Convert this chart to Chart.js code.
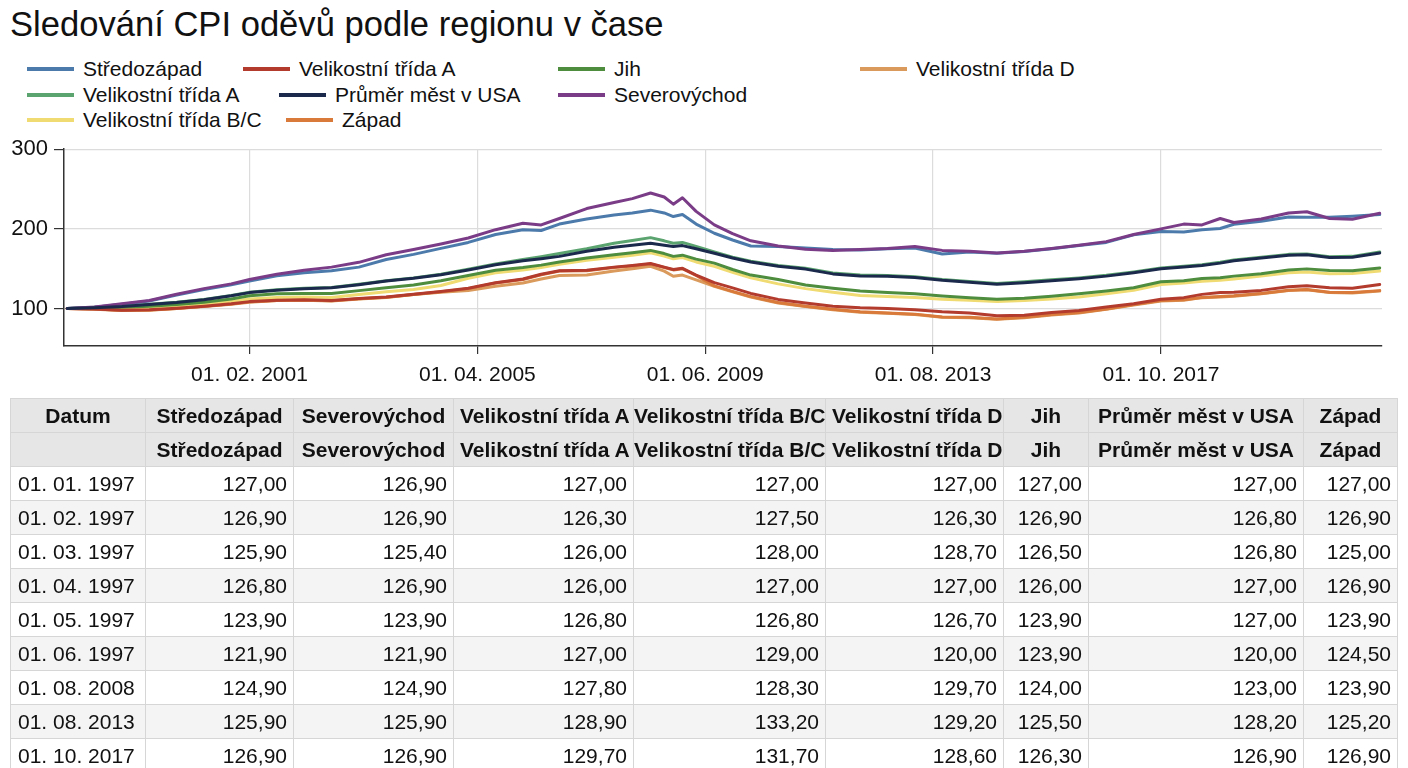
<!DOCTYPE html>
<html><head><meta charset="utf-8">
<script src="https://cdn.jsdelivr.net/npm/chart.js@4.4.1/dist/chart.umd.min.js"></script>
<style>
body{margin:0;width:1408px;height:768px;overflow:hidden;background:#fff;font-family:"Liberation Sans",Arial,sans-serif;color:#111;position:relative}
#title{position:absolute;left:10px;top:4px;font-size:34.6px;line-height:40px;white-space:nowrap}
.li{position:absolute;height:24px;display:flex;align-items:center;font-size:21px;white-space:nowrap}
.sw{width:47px;height:4px;margin-right:9px}
#chartBox{position:absolute;left:0;top:130px;width:1408px;height:270px}
table{position:absolute;left:10px;top:398px;width:1387px;border-collapse:collapse;table-layout:fixed;font-size:21px}
td,th{border:1px solid #d6d6d6;padding:0 6px;height:33px;white-space:nowrap;overflow:visible}
th{background:#e6e6e6;font-weight:bold;text-align:center}
td{text-align:right}
td.d{text-align:left;padding-left:7px}
tbody tr:nth-child(even) td{background:#f4f4f4}
</style></head>
<body>
<div id="title">Sledování CPI oděvů podle regionu v čase</div>
<div id="legend"></div>
<div id="chartBox"><canvas id="c" width="1408" height="270"></canvas></div>
<table id="tbl"></table>
<script>
// ---- data ----
const sampleDates = ['1997-10','1998-04','1998-10','1999-04','1999-10','2000-04','2000-10','2001-02','2001-08','2002-02',
'2002-08','2003-02','2003-08','2004-02','2004-08','2005-02','2005-08','2006-02','2006-06','2006-10',
'2007-04','2007-10','2008-02','2008-06','2008-09','2008-11','2009-01','2009-04','2009-08','2009-12',
'2010-04','2010-10','2011-04','2011-10','2012-04','2012-10','2013-04','2013-10','2014-04','2014-10',
'2015-04','2015-10','2016-04','2016-10','2017-04','2017-10','2018-03','2018-07','2018-11','2019-02',
'2019-08','2020-02','2020-06','2020-11','2021-04','2021-10'];

const midwest = [100,101.5,105.5,109.5,117,124,130,134.5,141,145,
147.5,152,161.5,168,175.5,183,193,199,198,206,
212.5,217.5,220,223.5,220,215.5,218,206,194.5,186,
178.5,178,176,174,173.5,175,176,168.5,171,169.5,
171.5,175,179,183,192.5,196.7,196,199,200.5,205.8,
209.5,215,214.5,214.5,216,218];
const sizeARed = [100,99.5,98,98.5,100.5,103,106,108.7,110.5,111,
110,112.5,114.5,118,121.5,125.5,132.5,137,143,147.5,
148,152,154,156.5,152,149,150.5,142,132.5,126,
119,111.5,107,103,101,100,98.5,96,94.5,91,
91.5,95,97.5,102,106,111.6,113.7,117.8,120,120.5,
122.8,127.5,128.5,126,125.5,130.3];
const south = [100,100.5,101.5,103,105,108,112,116,118.5,119,
119,122.5,126,129.5,135,141.5,148,151.5,154.5,158.5,
163.5,167.5,170,173,169,165.5,167,162,157,149,
142,136.5,129.5,125.5,122,120,118.5,115.8,113.7,111.6,
113,115.5,118.5,122,126,133.6,135,137.8,138.6,140.7,
143.6,148.5,149.8,147.7,147.5,151];
const sizeD = [100,99,97.5,98,100,102.5,105.5,108,110,110.5,
109.5,112,114,117.5,120.5,122.5,128,132,137,141.5,
142,147,150,153,147,140.5,142,136,128,121,
114.5,107,102.5,98.5,95.5,94,92.5,89,88.5,86.5,
88.5,92,94.5,99,104.5,109.5,110.4,113.7,114.5,115.5,
118.7,122.5,123.5,120,119.5,122];
const sizeAGreen = [100,101.5,103,105.5,108,111.5,116.5,120.5,123.5,125.5,
126.5,130.5,135,138.5,143,149.5,156,161.5,165,169,
175,182,185.5,189,185,182,183,178,171,164.5,
159.5,154,150.5,144.5,142,141.5,140,136.5,134,131.5,
133.5,136,138.5,141.7,146,151,153,155,158,161,
164.5,168,168.5,165,165.5,171];
const usAverage = [100,101,102.5,105,107.5,111,116,120,123,125,
126,130,134.5,138,142.5,148.5,155,160,162.5,165.5,
172,177,179.5,182,179.5,178,179,175,169.5,163.5,
158.5,153,149.5,143.5,141,140.5,139,135.5,133,130.5,
132.5,135,137.5,140.7,145,150,152,154,157,160,
163.5,167,167.5,164,164.5,169.7];
const northeast = [100,102,106,110,118,125,131,136.5,143,148,
152,158,167.5,174,181,188.5,199,207,205,213,
225.5,233,238,245,240,231,239,222,205,194,
185,178.5,174.5,173,174,175.5,178,173,171.8,169.7,
172,175.5,179.5,184,193,200,206,205,213,208,
212.5,220,221.5,213,212,219.5];
const sizeBC = [100,100,100.5,101.5,103,105.5,109,112,114,114.5,
114,117.5,121,124,129,138,145,148.5,151.5,155.5,
160.5,164.5,167,170,166,162.5,164,158.5,153,145.5,
138.5,131,125,120.5,116.5,115,114,111.6,110.4,108.7,
110,112,114.5,118.7,123,130.3,132,134.4,135.5,137,
140.7,145,146,143.6,144,147];
const west = [100,99.5,97.8,98.2,100.2,102.8,105.8,108.4,110.2,110.7,
109.7,112.2,114.2,117.7,121.2,125,132,136.5,142.5,147,
147.5,151.5,153.5,156,151.5,148.5,150,141.5,128.5,121.5,
115,107.5,103,99,96,94.5,93,89.5,89,87,
89,92.5,95,99.5,105,110,111,114,115,116,
119,123,124,120.5,120,122.5];

const seriesNames = ['Středozápad','Velikostní třída A','Jih','Velikostní třída D','Velikostní třída A','Průměr měst v USA','Severovýchod','Velikostní třída B/C','Západ'];
const seriesValues = [midwest,sizeARed,south,sizeD,sizeAGreen,usAverage,northeast,sizeBC,west];
const seriesColors = ['#4c7bab','#b23b2e','#4e8c3e','#d99a5c','#5ba36f','#1b2a4c','#7b3c87','#efdb72','#d9793a'];
const drawOrder = [4,2,3,8,6,0,1,5,7];

const xTickDates = ['2001-02','2005-04','2009-06','2013-08','2017-10'];
const yTickValues = [100,200,300];

const tableHeaders = ['Datum','Středozápad','Severovýchod','Velikostní třída A','Velikostní třída B/C','Velikostní třída D','Jih','Průměr měst v USA','Západ'];
const tableDates = ['01. 01. 1997','01. 02. 1997','01. 03. 1997','01. 04. 1997','01. 05. 1997','01. 06. 1997','01. 08. 2008','01. 08. 2013','01. 10. 2017'];
const tMidwest   = ['127,00','126,90','125,90','126,80','123,90','121,90','124,90','125,90','126,90'];
const tNortheast = ['126,90','126,90','125,40','126,90','123,90','121,90','124,90','125,90','126,90'];
const tSizeA     = ['127,00','126,30','126,00','126,00','126,80','127,00','127,80','128,90','129,70'];
const tSizeBC    = ['127,00','127,50','128,00','127,00','126,80','129,00','128,30','133,20','131,70'];
const tSizeD     = ['127,00','126,30','128,70','127,00','126,70','120,00','129,70','129,20','128,60'];
const tSouth     = ['127,00','126,90','126,50','126,00','123,90','123,90','124,00','125,50','126,30'];
const tUS        = ['127,00','126,80','126,80','127,00','127,00','120,00','123,00','128,20','126,90'];
const tWest      = ['127,00','126,90','125,00','126,90','123,90','124,50','123,90','125,20','126,90'];

// ---- layout (positions only) ----
const legendPos = [[27,57],[243,57],[558,57],[860,57],[27,83],[279,83],[558,83],[27,108],[286,108]];
const colWidths = [135,148,160,180,192,178,85,215,94];

// ---- helpers ----
function monthIndex(d){const [y,m]=d.split('-').map(Number);return (y-1997)*12+(m-10);}
function fmtMonth(v){const t=Math.round(v)+9;const y=1997+Math.floor(t/12);const mo=t%12+1;return '01. '+String(mo).padStart(2,'0')+'. '+y;}

// legend
const lg=document.getElementById('legend');
seriesNames.forEach((n,i)=>{
  const d=document.createElement('div');d.className='li';
  d.style.left=legendPos[i][0]+'px';d.style.top=legendPos[i][1]+'px';
  d.innerHTML='<span class="sw" style="background:'+seriesColors[i]+'"></span><span>'+n+'</span>';
  lg.appendChild(d);
});

// table
const tbl=document.getElementById('tbl');
let html='<colgroup>'+colWidths.map(w=>'<col style="width:'+w+'px">').join('')+'</colgroup><thead><tr>';
html+=tableHeaders.map((h,i)=>'<th'+(i===4?' style="padding:0"':'')+'>'+h+'</th>').join('')+'</tr><tr>';
html+=tableHeaders.map((h,i)=>'<th'+(i===4?' style="padding:0"':'')+'>'+(i===0?'':h)+'</th>').join('')+'</tr></thead><tbody>';
const tCols=[tMidwest,tNortheast,tSizeA,tSizeBC,tSizeD,tSouth,tUS,tWest];
tableDates.forEach((d,r)=>{html+='<tr><td class="d">'+d+'</td>'+tCols.map(c=>'<td>'+c[r]+'</td>').join('')+'</tr>';});
html+='</tbody>';
tbl.innerHTML=html;

// chart
const xs=sampleDates.map(monthIndex);
const font={family:'"Liberation Sans", Arial, sans-serif',size:21};
new Chart(document.getElementById('c'),{
  type:'line',
  data:{datasets:seriesNames.map((n,i)=>({
    label:n,data:xs.map((x,k)=>({x:x,y:seriesValues[i][k]})),
    borderColor:seriesColors[i],backgroundColor:seriesColors[i],order:drawOrder[i],fill:false
  }))},
  options:{
    responsive:false,animation:false,
    layout:{padding:{top:15,right:26,left:0,bottom:0}},
    plugins:{legend:{display:false},tooltip:{enabled:false}},
    elements:{point:{radius:0},line:{tension:0,borderWidth:3,borderCapStyle:'round',borderJoinStyle:'round'}},
    scales:{
      x:{type:'linear',min:-0.7,max:288.5,
        afterBuildTicks:s=>{s.ticks=xTickDates.map(d=>({value:monthIndex(d)}));},
        afterFit:s=>{s.height=54;},
        grid:{color:'#dcdcdc',lineWidth:1.2,tickColor:'#333',tickLength:8},
        border:{color:'#333',width:1.5},
        ticks:{font:font,color:'#111',padding:9,maxRotation:0,autoSkip:false,callback:v=>fmtMonth(v)}},
      y:{type:'linear',min:53,max:300,
        afterBuildTicks:s=>{s.ticks=yTickValues.map(v=>({value:v}));},
        afterFit:s=>{s.width=64;},
        grid:{color:'#dcdcdc',lineWidth:1.2,tickColor:'#333',tickLength:10},
        border:{color:'#333',width:1.5},
        ticks:{font:{family:font.family,size:22},color:'#111',padding:6,callback:v=>String(v)}}
    }
  }
});
</script>
</body></html>
